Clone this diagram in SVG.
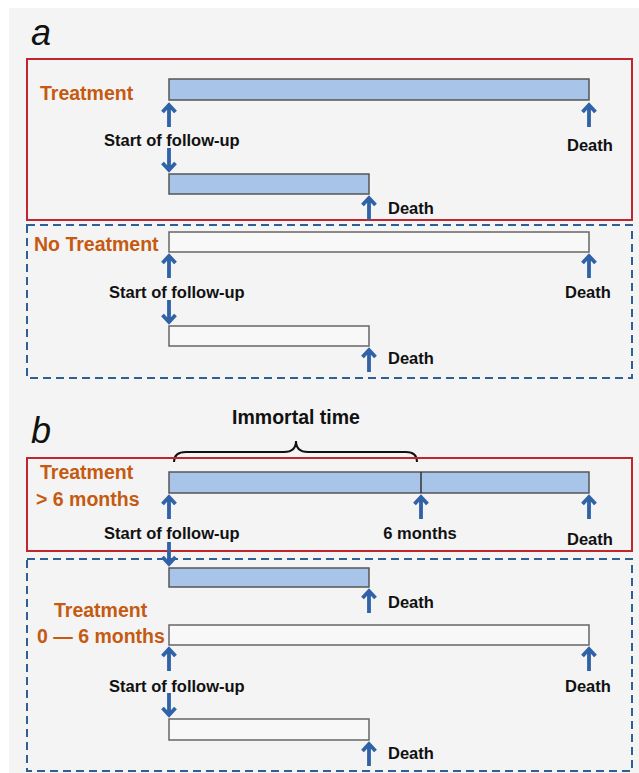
<svg xmlns="http://www.w3.org/2000/svg" xmlns:xlink="http://www.w3.org/1999/xlink" width="639" height="773" viewBox="0 0 639 773">
<style>
.bg{fill:#f4f4f4}
.red{fill:none;stroke:#c0262d;stroke-width:2}
.dash{fill:none;stroke:#2f6094;stroke-width:2;stroke-dasharray:8 5}
.barb{fill:#a8c4e9;stroke:#555;stroke-width:1.5}
.barw{fill:#f8f8f8;stroke:#666;stroke-width:1.5}
.lbl{font-family:"Liberation Sans",Arial,sans-serif;font-weight:bold;font-size:16.5px;fill:#111}
.grp{font-family:"Liberation Sans",Arial,sans-serif;font-weight:bold;font-size:19.5px;fill:#c55a11}
.pan{font-family:"Liberation Sans",Arial,sans-serif;font-style:italic;font-size:36px;fill:#111}
.arr{fill:none;stroke:#2f62a6;stroke-width:3.8;stroke-linejoin:miter}
.brace{fill:none;stroke:#111;stroke-width:2}
</style>
<defs>
<path id="up" class="arr" d="M0,24 V2 M-6.5,9 L0,2 L6.5,9"/>
<path id="dn" class="arr" d="M0,-24 V-2 M-6.5,-9 L0,-2 L6.5,-9"/>
</defs>
<rect x="9" y="8" width="630" height="765" class="bg"/>
<g id="panel-a-label"><text class="pan" x="31" y="45">a</text></g>
<g id="box-treatment-a"><rect class="red" x="27" y="59" width="605" height="161"/><text class="grp" x="40" y="100">Treatment</text></g>
<g id="box-notreatment-a"><rect class="dash" x="27" y="225" width="605" height="153"/><text class="grp" x="34" y="251">No Treatment</text></g>
<g id="a-bar1"><rect class="barb" x="169" y="79" width="420" height="21"/></g>
<g id="a-bar2"><rect class="barb" x="169" y="174" width="200" height="20"/></g>
<g id="a-bar3"><rect class="barw" x="169" y="232" width="420" height="20"/></g>
<g id="a-bar4"><rect class="barw" x="169" y="326" width="200" height="20"/></g>
<g id="a-labels">
<text class="lbl" x="104" y="146">Start of follow-up</text>
<text class="lbl" x="567" y="151">Death</text>
<text class="lbl" x="388" y="214">Death</text>
<text class="lbl" x="109" y="298">Start of follow-up</text>
<text class="lbl" x="565" y="298">Death</text>
<text class="lbl" x="388" y="364">Death</text>
</g>
<g id="panel-b-label"><text class="pan" x="31" y="443">b</text></g>
<g id="immortal"><text class="lbl" x="296" y="424" text-anchor="middle" style="font-size:19.5px">Immortal time</text>
<path class="brace" d="M174,462 Q174,452 186,452 H284 Q296,452 296,441 Q296,452 308,452 H406 Q417,452 417,462"/></g>
<g id="box-treatment-b"><rect class="red" x="27" y="458" width="605" height="93"/><text class="grp" x="40" y="479">Treatment</text><text class="grp" x="36" y="506">&gt; 6 months</text></g>
<g id="box-treatment06-b"><rect class="dash" x="27" y="559" width="605" height="212"/><text class="grp" x="54" y="617">Treatment</text><text class="grp" x="37" y="643">0 — 6 months</text></g>
<g id="b-bar1"><rect class="barb" x="169" y="472" width="420" height="21"/><line x1="421" y1="472" x2="421" y2="493" stroke="#333" stroke-width="1.5"/></g>
<g id="b-bar2"><rect class="barb" x="169" y="568" width="200" height="19"/></g>
<g id="b-bar3"><rect class="barw" x="169" y="625" width="420" height="20"/></g>
<g id="b-bar4"><rect class="barw" x="169" y="719" width="200" height="21"/></g>
<g id="b-labels">
<text class="lbl" x="104" y="539">Start of follow-up</text>
<text class="lbl" x="420" y="539" text-anchor="middle">6 months</text>
<text class="lbl" x="567" y="545">Death</text>
<text class="lbl" x="388" y="608">Death</text>
<text class="lbl" x="109" y="692">Start of follow-up</text>
<text class="lbl" x="565" y="692">Death</text>
<text class="lbl" x="388" y="759">Death</text>
</g>
<g id="connectors">
<use xlink:href="#up" x="169" y="103"/>
<use xlink:href="#dn" x="169" y="172"/>
<use xlink:href="#up" x="589" y="103"/>
<use xlink:href="#up" x="369" y="196"/>
<use xlink:href="#up" x="169" y="254"/>
<use xlink:href="#dn" x="169" y="324"/>
<use xlink:href="#up" x="589" y="254"/>
<use xlink:href="#up" x="369" y="348"/>
<use xlink:href="#up" x="169" y="495"/>
<use xlink:href="#up" x="421" y="495"/>
<use xlink:href="#up" x="589" y="495"/>
<use xlink:href="#dn" x="169" y="566"/>
<use xlink:href="#up" x="369" y="589"/>
<use xlink:href="#up" x="169" y="647"/>
<use xlink:href="#up" x="589" y="647"/>
<use xlink:href="#dn" x="169" y="717"/>
<use xlink:href="#up" x="369" y="742"/>
</g>
</svg>
